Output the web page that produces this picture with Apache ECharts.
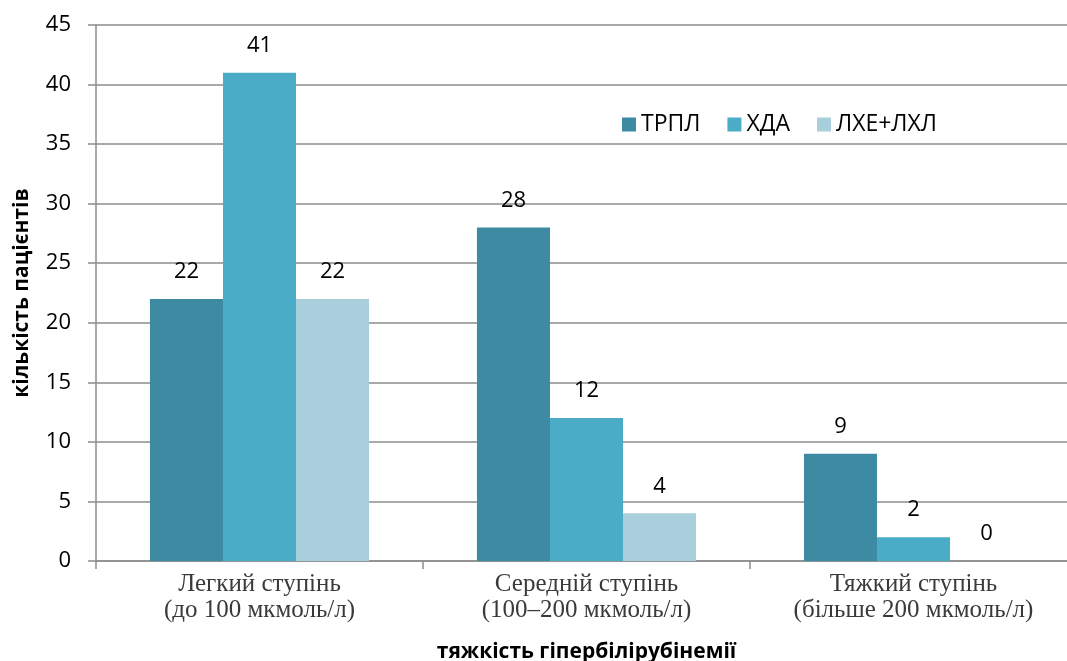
<!DOCTYPE html>
<html>
<head>
<meta charset="utf-8">
<script src="https://cdn.jsdelivr.net/npm/echarts@6/dist/echarts.min.js"></script>
<style>
  html, body { margin: 0; padding: 0; background: #fff; }
  #chart { width: 1067px; height: 661px; }
</style>
</head>
<body>
<div id="chart"></div>
<script>
// categories and values
const categories = [
  "Легкий ступінь\n(до 100 мкмоль/л)",
  "Середній ступінь\n(100–200 мкмоль/л)",
  "Тяжкий ступінь\n(більше 200 мкмоль/л)"
];
const trpl = [22, 28, 9];
const hda = [41, 12, 2];
const lhe = [22, 4, 0];
const seriesNames = ["ТРПЛ", "ХДА", "ЛХЕ+ЛХЛ"];
const colors = ["#3d8ba3", "#4aacc6", "#a9cfdc"];

const sansFont = "'Open Sans', 'Noto Sans', sans-serif";

const labelStyle = {
  show: true,
  position: "top",
  distance: 16,
  fontSize: 22,
  fontFamily: sansFont,
  color: "#000"
};

const chart = echarts.init(document.getElementById("chart"));
chart.setOption({
  animation: false,
  color: colors,
  grid: { left: 96, top: 25, width: 981, height: 536, outerBoundsMode: "none", containLabel: false },
  legend: {
    top: 108,
    left: 617,
    itemWidth: 14,
    itemHeight: 14,
    itemGap: 27,
    icon: "rect",
    textStyle: { fontSize: 23, fontFamily: sansFont, color: "#000" }
  },
  xAxis: {
    type: "category",
    data: categories,
    name: "тяжкість гіпербілірубінемії",
    nameLocation: "middle",
    nameGap: 81,
    nameTextStyle: { fontSize: 21, fontWeight: "bold", fontFamily: sansFont, color: "#000" },
    axisLine: { lineStyle: { color: "#8c8c8c", width: 1.5 } },
    axisTick: { show: true, length: 8, lineStyle: { color: "#8c8c8c", width: 1.5 } },
    axisLabel: {
      fontSize: 25,
      fontFamily: "'Liberation Serif', 'DejaVu Serif', serif",
      color: "#3a3a3a",
      lineHeight: 26,
      margin: 10
    }
  },
  yAxis: {
    type: "value",
    min: 0,
    max: 45,
    interval: 5,
    name: "кількість пацієнтів",
    nameLocation: "middle",
    nameGap: 63,
    nameTextStyle: { fontSize: 21, fontWeight: "bold", fontFamily: sansFont, color: "#000" },
    axisLine: { show: true, lineStyle: { color: "#8c8c8c", width: 1.5 } },
    axisTick: { show: true, length: 8, lineStyle: { color: "#8c8c8c", width: 1.5 } },
    axisLabel: { fontSize: 22, fontFamily: sansFont, color: "#000", margin: 25 },
    splitLine: { lineStyle: { color: "#8c8c8c", width: 1.5 } }
  },
  series: [
    { name: seriesNames[0], type: "bar", data: trpl, barGap: "0%", barCategoryGap: "33%", label: labelStyle },
    { name: seriesNames[1], type: "bar", data: hda, barGap: "0%", barCategoryGap: "33%", label: labelStyle },
    { name: seriesNames[2], type: "bar", data: lhe, barGap: "0%", barCategoryGap: "33%", label: labelStyle }
  ]
});
</script>
</body>
</html>
